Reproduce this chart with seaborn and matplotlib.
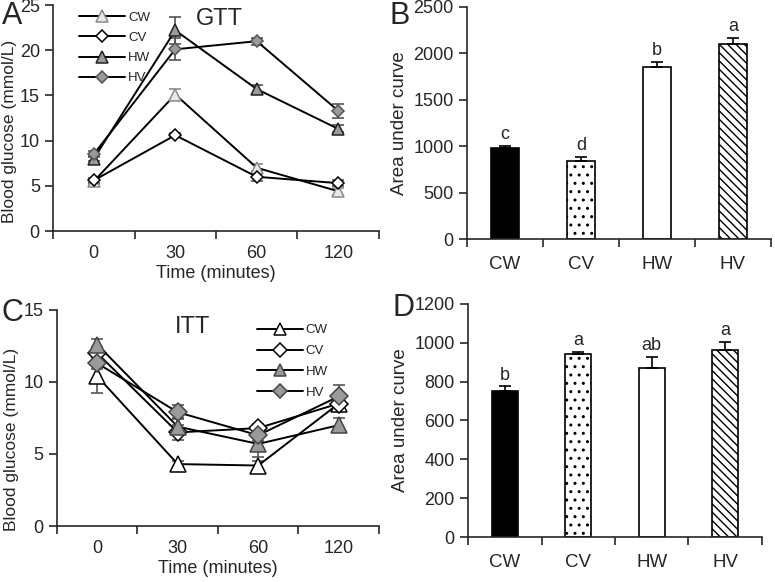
import matplotlib
matplotlib.use("Agg")
import matplotlib.pyplot as plt
import seaborn as sns
import numpy as np

# ---- data ----
times = ["0", "30", "60", "120"]
groups = ["CW", "CV", "HW", "HV"]

gtt_cw = [5.5, 15.1, 7.0, 4.4]
gtt_cv = [5.6, 10.6, 6.0, 5.3]
gtt_hw = [8.0, 22.2, 15.7, 11.3]
gtt_hv = [8.5, 20.1, 21.0, 13.3]
gtt_cw_err = [0.3, 0.65, 0.4, 0.4]
gtt_cv_err = [0.3, 0.25, 0.5, 0.3]
gtt_hw_err = [0.3, 1.5, 0.5, 0.4]
gtt_hv_err = [0.3, 1.2, 0.4, 0.8]

itt_cw = [10.4, 4.3, 4.2, 8.5]
itt_cv = [12.0, 6.5, 6.8, 8.5]
itt_hw = [12.6, 6.9, 5.7, 7.0]
itt_hv = [11.3, 7.9, 6.3, 9.0]
itt_cw_err = [1.15, 0.2, 0.3, 0.3]
itt_cv_err = [0.4, 0.5, 0.3, 0.3]
itt_hw_err = [0.4, 0.6, 0.9, 0.5]
itt_hv_err = [0.4, 0.5, 0.4, 0.8]

auc_gtt = [985, 844, 1857, 2098]
auc_gtt_err = [15, 40, 55, 65]
auc_gtt_sig = ["c", "d", "b", "a"]

auc_itt = [753, 940, 870, 963]
auc_itt_err = [23, 14, 58, 43]
auc_itt_sig = ["b", "a", "ab", "a"]

# ---- style ----
sns.set_style("ticks")
plt.rcParams["font.family"] = ["Liberation Sans", "DejaVu Sans"]
plt.rcParams["hatch.linewidth"] = 1.0

fig = plt.figure(figsize=(7.75, 5.82), dpi=100)
axA = fig.add_axes([0.0684, 0.603, 0.4206, 0.3884])
axB = fig.add_axes([0.6026, 0.5893, 0.3922, 0.3987])
axC = fig.add_axes([0.0735, 0.0962, 0.4155, 0.3712])
axD = fig.add_axes([0.6039, 0.0773, 0.3793, 0.4004])

pos = np.arange(len(times))


def line_panel(ax, series, errs, styles, ms, ylab_size):
    for (name, vals), err, st in zip(series, errs, styles):
        ax.errorbar(pos, vals, yerr=err, fmt="none", ecolor=st["ecolor"],
                    elinewidth=1.2, capsize=4, capthick=1.2, zorder=2)
        sns.lineplot(x=pos, y=vals, ax=ax, color="black", linewidth=1.4,
                     marker=st["marker"], markersize=ms * st.get("scale", 1),
                     markerfacecolor=st["fc"], markeredgecolor=st["ec"],
                     markeredgewidth=1.1, label=name, zorder=3)
    ax.set_xlim(-0.5, 3.5)
    ax.set_xticks(pos)
    ax.set_xticklabels(times)
    ax.set_xticks(np.arange(-0.5, 4, 1), minor=True)
    ax.tick_params(axis="x", which="major", length=0, labelsize=13, pad=10)
    ax.tick_params(axis="x", which="minor", length=6, width=1.2, direction="out")
    ax.tick_params(axis="y", length=6, width=1.2, labelsize=13)
    ax.set_xlabel("Time (minutes)", fontsize=13, labelpad=2)
    ax.set_ylabel("Blood glucose (mmol/L)", fontsize=ylab_size)
    for s in ["left", "bottom"]:
        ax.spines[s].set_linewidth(1.2)
    sns.despine(ax=ax)


stylesA = [
    dict(marker="^", fc="#e8e8e8", ec="#8a8a8a", ecolor="#8a8a8a"),
    dict(marker="D", fc="white", ec="black", ecolor="#555555", scale=0.75),
    dict(marker="^", fc="#9a9a9a", ec="#222222", ecolor="#555555"),
    dict(marker="D", fc="#9a9a9a", ec="#555555", ecolor="#555555", scale=0.75),
]
line_panel(axA, list(zip(groups, [gtt_cw, gtt_cv, gtt_hw, gtt_hv])),
           [gtt_cw_err, gtt_cv_err, gtt_hw_err, gtt_hv_err], stylesA, 8, 12.5)
axA.set_ylim(0, 25)
axA.set_yticks(range(0, 26, 5))
axA.yaxis.set_label_coords(-0.11, 0.44)
axA.text(0.51, 0.985, "GTT", transform=axA.transAxes, ha="center", va="top", fontsize=17)
axA.legend(loc="upper left", bbox_to_anchor=(0.06, 1.0), frameon=False, fontsize=9.5,
           handlelength=3.5, handletextpad=0.2, labelspacing=0.6, borderpad=0)

stylesC = [
    dict(marker="^", fc="white", ec="black", ecolor="#555555"),
    dict(marker="D", fc="white", ec="black", ecolor="#555555", scale=0.75),
    dict(marker="^", fc="#9a9a9a", ec="#444444", ecolor="#555555"),
    dict(marker="D", fc="#9a9a9a", ec="#444444", ecolor="#555555", scale=0.8),
]
line_panel(axC, list(zip(groups, [itt_cw, itt_cv, itt_hw, itt_hv])),
           [itt_cw_err, itt_cv_err, itt_hw_err, itt_hv_err], stylesC, 12, 12.5)
axC.set_ylim(0, 15)
axC.set_yticks(range(0, 16, 5))
axC.yaxis.set_label_coords(-0.118, 0.4)
axC.text(0.42, 0.97, "ITT", transform=axC.transAxes, ha="center", va="top", fontsize=17)
axC.legend(loc="upper left", bbox_to_anchor=(0.6, 0.965), frameon=False, fontsize=9.5,
           handlelength=3.5, handletextpad=0.2, labelspacing=0.65, borderpad=0,
           markerscale=0.75)


def bar_panel(ax, vals, errs, sig, ymax, step):
    sns.barplot(x=groups, y=vals, hue=groups, ax=ax, legend=False, width=0.36,
                edgecolor="black", linewidth=1.2, palette=["black", "white", "white", "white"])
    hatches = ["", "..", "", "\\\\\\\\"]
    for p, h in zip(ax.patches, hatches):
        p.set_hatch(h)
    ax.errorbar(np.arange(4), vals, yerr=[[0] * 4, errs], fmt="none", ecolor="black",
                elinewidth=1.2, capsize=4, capthick=1.2)
    for i, (v, e, s) in enumerate(zip(vals, errs, sig)):
        ax.text(i, v + e + ymax * 0.012, s, ha="center", va="bottom", fontsize=13)
    ax.set_xlim(-0.5, 3.5)
    ax.set_ylim(0, ymax)
    ax.set_yticks(np.arange(0, ymax + 1, step))
    ax.set_xticks(np.arange(-0.5, 4, 1), minor=True)
    ax.tick_params(axis="x", which="major", length=0, labelsize=13.5, pad=12)
    ax.tick_params(axis="x", which="minor", length=6, width=1.2, direction="out")
    ax.tick_params(axis="y", length=6, width=1.2, labelsize=13)
    ax.set_ylabel("Area under curve", fontsize=13.5, labelpad=4)
    ax.set_xlabel("")
    for s in ["left", "bottom"]:
        ax.spines[s].set_linewidth(1.2)
    sns.despine(ax=ax)


bar_panel(axB, auc_gtt, auc_gtt_err, auc_gtt_sig, 2500, 500)
bar_panel(axD, auc_itt, auc_itt_err, auc_itt_sig, 1200, 200)

fig.text(0.002, 0.972, "A", fontsize=22, va="center")
fig.text(0.503, 0.972, "B", fontsize=22, va="center")
fig.text(0.002, 0.462, "C", fontsize=22, va="center")
fig.text(0.506, 0.47, "D", fontsize=22, va="center")

fig.savefig("out.png", dpi=100)
